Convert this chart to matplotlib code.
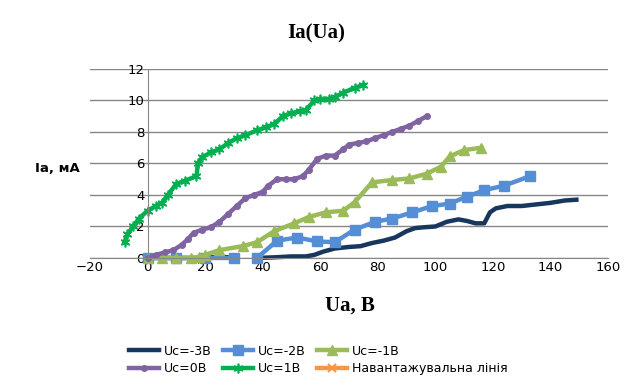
import numpy as np
import matplotlib.pyplot as plt

plt.rcParams['font.family'] = ['DejaVu Sans']

# Uc = -3B
x_m3 = [0, 5, 10, 15, 20, 25, 30, np.nan, 38, 45, 50, 55, 58, 61, 65, 70, 74, 78, 82, 86,
        90, 93, 96, 100, 104, 108, 111, 114, 117, 119, 121, 125, 130, 135, 140, 145, 149]
y_m3 = [0, 0, 0, 0, 0, 0.1, 0, np.nan, 0, 0.05, 0.1, 0.1, 0.2, 0.4, 0.6, 0.7, 0.75, 0.95, 1.1, 1.3,
        1.7, 1.9, 1.95, 2.0, 2.3, 2.45, 2.35, 2.2, 2.2, 2.9, 3.15, 3.3, 3.3, 3.4, 3.5, 3.65, 3.7]

# Uc = -2B
x_m2 = [0, 10, 20, 30, np.nan, 38, 45, 52, 59, 65, 72, 79, 85, 92, 99, 105, 111, 117, 124, 133]
y_m2 = [0, 0, 0, 0, np.nan, 0, 1.1, 1.3, 1.05, 1.0, 1.8, 2.3, 2.5, 2.9, 3.3, 3.45, 3.9, 4.3, 4.6, 5.2]

# Uc = -1B
x_m1 = [0, 5, 10, 15, 18, 20, 25, 33, 38, 44, 51, 56, 62, 68, 72, 78, 85, 91, 97,
        102, 105, 110, 116]
y_m1 = [0, 0, 0, 0, 0.05, 0.2, 0.5, 0.75, 1.0, 1.7, 2.2, 2.6, 2.9, 3.0, 3.55, 4.8, 4.95, 5.05, 5.35,
        5.8, 6.45, 6.85, 7.0]

# Uc = 0B
x_0 = [0, 3, 6, 9, 12, 14, 16, 19, 22, 25, 28, 31, 34, 37, 40, 42, 45, 48, 51, 54, 56, 59,
       62, 65, 68, 70, 73, 76, 79, 82, 85, 88, 91, 94, 97]
y_0 = [0, 0.2, 0.35, 0.5, 0.85, 1.2, 1.6, 1.8, 1.95, 2.3, 2.8, 3.3, 3.8, 4.0, 4.2, 4.6, 5.0, 5.0,
       5.0, 5.2, 5.6, 6.3, 6.5, 6.5, 6.9, 7.2, 7.3, 7.4, 7.6, 7.8, 8.0, 8.2, 8.4, 8.7, 9.0]

# Uc = 1B
x_p1 = [-8, -7, -5, -3, 0, 3, 5, 7, 10, 13, 17, 17.5, 19, 22, 25, 28, 31, 34, 38, 41, 44,
        47, 50, 53, 55, 58, 60, 63, 65, 68, 72, 75]
y_p1 = [1.0, 1.5, 2.0, 2.5, 3.0, 3.3, 3.5, 4.0, 4.7, 4.9, 5.2, 6.0, 6.4, 6.7, 6.9, 7.3, 7.6, 7.8,
        8.1, 8.3, 8.5, 9.0, 9.2, 9.3, 9.4, 10.0, 10.1, 10.1, 10.2, 10.5, 10.8, 11.0]

# load line (no data shown)
x_load = []
y_load = []

fig = plt.figure(figsize=(6.36, 3.89), dpi=100)
ax = fig.add_axes([0.1415, 0.3368, 0.8145, 0.4859])

lw = 3.2
ax.plot(x_m3, y_m3, '-', color='#17375E', lw=lw, label='Uc=-3B', clip_on=False)
ax.plot(x_m2, y_m2, '-', color='#558ED5', lw=lw, marker='s', ms=7, label='Uc=-2B', clip_on=False)
ax.plot(x_m1, y_m1, '-', color='#9BBB59', lw=lw, marker='^', ms=7, label='Uc=-1B', clip_on=False)
ax.plot(x_0, y_0, '-', color='#8064A2', lw=lw, marker='o', ms=4, label='Uc=0B', clip_on=False)
ax.plot(x_p1, y_p1, '-', color='#00B050', lw=lw, marker=(6, 2, 0), ms=7, mew=1.2,
        label='Uc=1B', clip_on=False)
ax.plot(x_load, y_load, '-', color='#F79646', lw=lw, marker='x', ms=6, mew=1.5,
        label='Навантажувальна лінія')

ax.set_xlim(-20, 160)
ax.set_ylim(0, 12)
ax.set_xticks(np.arange(-20, 161, 20))
ax.set_yticks(np.arange(0, 13, 2))
ax.yaxis.grid(True, color='#868686', lw=1)
ax.set_axisbelow(True)
for s in ['top', 'right']:
    ax.spines[s].set_visible(False)
ax.spines['left'].set_position(('data', 0))
ax.spines['left'].set_color('#868686')
ax.spines['bottom'].set_color('#868686')
ax.tick_params(length=0, labelsize=9.5, pad=2)

fig.text(0.497, 0.915, 'Ia(Ua)', fontsize=15, fontweight='bold', family='Liberation Serif',
         ha='center', va='center')
fig.text(0.55, 0.215, 'Ua, B', fontsize=15, fontweight='bold', family='Liberation Serif',
         ha='center', va='center')
fig.text(0.09, 0.568, 'Ia, мА', fontsize=9.5, fontweight='bold', ha='center', va='center')

# legend filled row by row, like the original
h, l = ax.get_legend_handles_labels()
order = [0, 3, 1, 4, 2, 5]
fig.legend([h[i] for i in order], [l[i] for i in order], loc='center',
           bbox_to_anchor=(0.5, 0.075), ncol=3, frameon=False, fontsize=9,
           handlelength=2.4, columnspacing=0.9, handletextpad=0.4, labelspacing=0.35)

plt.savefig('out.png', dpi=100)
